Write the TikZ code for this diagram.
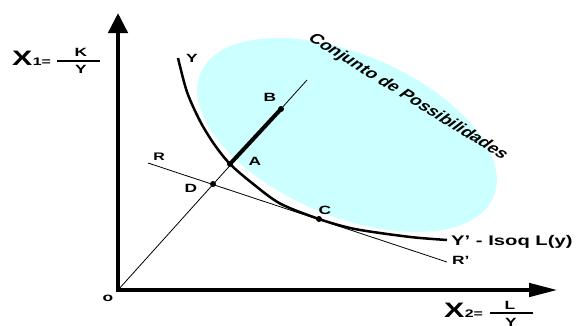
\documentclass[tikz,border=0pt]{standalone}
\usepackage{fontspec}
\setmainfont{Liberation Sans}
\newfontfamily\widefont[FakeStretch=1.45]{Liberation Sans}
\usetikzlibrary{arrows.meta}
\definecolor{setcyan}{RGB}{204,255,255}

\begin{document}
\begin{tikzpicture}[
    x=1bp, y=-1bp,
    axis/.style={line width=4.5bp},
    thinline/.style={line width=0.8bp},
    isoq/.style={line width=2.5bp},
    dot/.style={circle, fill, inner sep=0pt, minimum size=6bp},
    lbl/.style={font=\widefont\bfseries\fontsize{12}{12}\selectfont, inner sep=0pt},
    biglbl/.style={font=\widefont\bfseries\fontsize{21}{21}\selectfont, inner sep=0pt},
    sublbl/.style={font=\widefont\bfseries\fontsize{11}{11}\selectfont, inner sep=0pt},
    fraclbl/.style={font=\widefont\bfseries\fontsize{12}{12}\selectfont, inner sep=0pt},
    fracbar/.style={line width=2.5bp}
]
  \useasboundingbox (0,0) rectangle (578,325);

  % set of possibilities
  \fill[setcyan, rotate around={-22.9:(347,135)}] (347,135) ellipse [x radius=159, y radius=81];
  \begin{scope}[shift={(408,97)}]
    \node[font=\bfseries\fontsize{13.8}{14}\selectfont, inner sep=0pt,
          xscale=1.45, rotate=-41.8] (conj) at (0,0) {Conjunto de Possibilidades};
  \end{scope}

  % points
  \coordinate (O) at (118,290);
  \coordinate (ytip) at (118,13);
  \coordinate (xtip) at (558,290);
  \coordinate (rayend) at (307,80);
  \coordinate (Rl) at (148,163);
  \coordinate (Rr) at (447,262);

  % axes
  \draw[axis, {Triangle[length=20bp, width=19bp]}-{Triangle[length=29bp, width=13bp]}]
    (ytip) -- (O) -- (xtip);

  % ray and budget line
  \draw[thinline] (O) -- (rayend);
  \draw[thinline] (Rl) -- (Rr);

  % isoquant
  \draw[isoq] plot[smooth] coordinates {(178,58) (187,92) (200,121) (214,144) (230,164)
    (252,183) (280,203.5) (319,219) (350,228) (380,233) (415,237.5) (447,240)};

  % dots
  \node[dot] (A) at (230,164) {};
  \node[dot] (B) at (281,109) {};
  \node[dot] (C) at (319,219) {};
  \node[dot] (D) at (213,184) {};
  \draw[line width=4bp] (A.center) -- (B.center);

  % labels
  \node[lbl] (olbl) at (108,298) {o};
  \node[lbl, font=\widefont\bfseries\fontsize{11}{11}\selectfont] (Rlbl) at (159,157) {R};
  \node[lbl] (Dlbl) at (191,188) {D};
  \node[lbl] (Albl) at (255,161) {A};
  \node[lbl] (Blbl) at (270,97) {B};
  \node[lbl] (Clbl) at (325,210) {C};
  \node[lbl] (Ylbl) at (192,58) {Y};
  \node[lbl, anchor=west] (Rplbl) at (452,260) {R’};
  \node[lbl, anchor=west, font=\widefont\bfseries\fontsize{14}{14}\selectfont] (Yplbl) at (451,242) {Y’ - Isoq L(y)};

  % vertical axis name
  \node[biglbl, anchor=base west] (X1) at (12,65) {X};
  \node[sublbl, anchor=base west] (X1sub) at (X1.base east) {1=};
  \coordinate (f1l) at (57,61);
  \coordinate (f1r) at (100,61);
  \draw[fracbar] (f1l) -- (f1r);
  \node[fraclbl] (K) at (81,52) {K};
  \node[fraclbl] (Yden1) at (81,69.5) {Y};

  % horizontal axis name
  \node[biglbl, anchor=base west] (X2) at (444,317) {X};
  \node[sublbl, anchor=base west] (X2sub) at (X2.base east) {2=};
  \coordinate (f2l) at (490,313);
  \coordinate (f2r) at (533,313);
  \draw[fracbar] (f2l) -- (f2r);
  \node[fraclbl] (L) at (510,305) {L};
  \node[fraclbl] (Yden2) at (511,322.5) {Y};
\end{tikzpicture}
\end{document}
